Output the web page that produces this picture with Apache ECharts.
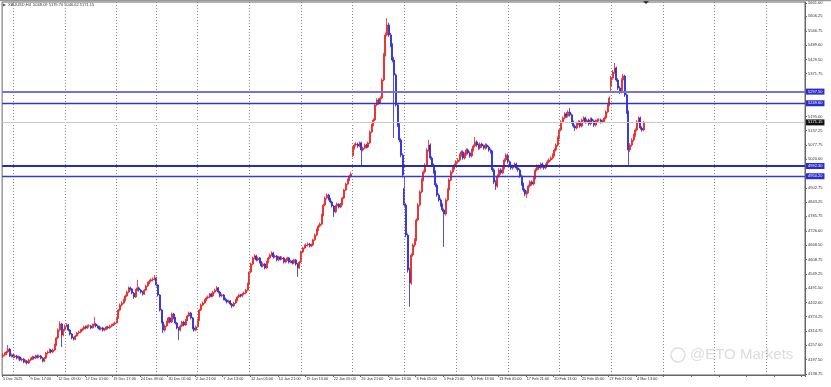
<!DOCTYPE html>
<html><head><meta charset="utf-8">
<script src="https://cdn.jsdelivr.net/npm/echarts@6/dist/echarts.min.js"></script>
<style>html,body{margin:0;padding:0;background:#fff}#c{width:831px;height:387px}</style>
</head><body><div id="c"></div>
<script>
// ---- DATA (XAUUSD H4, [open, close, low, high]) ----
const titleText = "XAUUSD,H4  5048.09 5179.70 5046.62 5171.15";
const xLabels = ["5 Dec 2025","9 Dec 17:00","12 Dec 09:00","17 Dec 01:00","19 Dec 17:00","24 Dec 09:00","30 Dec 05:00","2 Jan 21:00","7 Jan 13:00","12 Jan 05:00","14 Jan 21:00","19 Jan 13:00","22 Jan 05:00","26 Jan 21:00","29 Jan 13:00","3 Feb 05:00","5 Feb 21:00","10 Feb 13:00","13 Feb 05:00","17 Feb 21:00","20 Feb 13:00","25 Feb 05:00","27 Feb 21:00","4 Mar 13:00"];
const yTicks = [5661.00,5606.25,5546.75,5489.00,5429.50,5371.75,5195.00,5137.25,5077.75,5020.00,4902.75,4843.25,4785.75,4726.00,4668.50,4608.75,4549.25,4491.50,4432.00,4374.25,4314.75,4257.00,4197.50,4138.75];
const weekStarts = [6,36,66,89,113,143,173,203,233,263,293,323,353,383,413,443];
const levels = [5297.50,5249.60,4992.30,4950.20];
const lastPrice = 5171.15;

const wkDec5 = [[4212,4217,4205,4224],[4217,4221,4211,4228],[4221,4229,4216,4235],[4229,4241,4224,4258],[4241,4213,4208,4246],[4213,4217,4206,4223]];
const wkDec8 = [[4217,4209,4203,4222],[4209,4213,4204,4219],[4213,4204,4199,4217],[4204,4209,4198,4214],[4209,4196,4191,4212],[4196,4200,4190,4206],[4200,4188,4183,4204],[4188,4192,4183,4198],[4192,4184,4178,4196],[4184,4196,4180,4201],[4196,4200,4191,4206],[4200,4209,4196,4214],[4209,4204,4198,4213],[4204,4213,4200,4218],[4213,4209,4203,4219],[4209,4213,4204,4218],[4213,4204,4199,4217],[4204,4192,4186,4208],[4192,4204,4188,4209],[4204,4225,4200,4229],[4225,4229,4219,4235],[4229,4237,4224,4243],[4237,4229,4223,4242],[4229,4237,4225,4243],[4237,4258,4233,4263],[4258,4287,4254,4292],[4287,4319,4282,4326],[4319,4344,4313,4356],[4344,4299,4250,4349],[4299,4319,4293,4324]];
const wkDec15 = [[4319,4336,4314,4342],[4336,4340,4330,4347],[4340,4319,4314,4344],[4319,4303,4297,4323],[4303,4287,4281,4307],[4287,4282,4276,4292],[4282,4295,4278,4300],[4295,4307,4291,4312],[4307,4311,4302,4317],[4311,4319,4306,4324],[4319,4323,4314,4329],[4323,4332,4318,4337],[4332,4328,4322,4338],[4328,4336,4324,4341],[4336,4336,4329,4343],[4336,4328,4322,4341],[4328,4340,4325,4346],[4340,4344,4334,4373],[4344,4336,4330,4349],[4336,4332,4326,4341],[4332,4323,4318,4337],[4323,4328,4318,4333],[4328,4319,4313,4332],[4319,4323,4314,4328],[4323,4332,4319,4337],[4332,4328,4322,4336],[4328,4336,4324,4341],[4336,4340,4331,4345],[4340,4344,4335,4349],[4344,4348,4339,4354]];
const wkDec22 = [[4348,4369,4344,4374],[4369,4401,4365,4406],[4401,4422,4396,4428],[4422,4430,4416,4437],[4430,4442,4425,4448],[4442,4459,4437,4465],[4459,4475,4454,4481],[4475,4492,4470,4498],[4492,4488,4481,4497],[4488,4471,4466,4492],[4471,4455,4447,4475],[4455,4483,4451,4488],[4483,4492,4478,4525],[4492,4483,4477,4497],[4483,4475,4469,4487],[4475,4467,4461,4480],[4467,4483,4463,4488],[4483,4500,4479,4505],[4500,4512,4495,4517],[4512,4520,4507,4526],[4520,4525,4515,4531],[4525,4529,4519,4535],[4529,4533,4523,4545]];
const wkDec29 = [[4533,4504,4498,4538],[4504,4463,4457,4508],[4463,4401,4395,4467],[4401,4352,4346,4406],[4352,4319,4307,4357],[4319,4336,4313,4342],[4336,4352,4331,4358],[4352,4369,4347,4374],[4369,4352,4346,4373],[4352,4385,4348,4391],[4385,4369,4363,4390],[4369,4348,4342,4373],[4348,4328,4322,4352],[4328,4319,4278,4332],[4319,4336,4314,4341],[4336,4352,4331,4357],[4352,4340,4334,4357],[4340,4360,4336,4365],[4360,4377,4356,4382],[4377,4389,4372,4395],[4389,4369,4363,4393],[4369,4328,4322,4373],[4328,4319,4313,4333],[4319,4332,4314,4337]];
const wkJan5 = [[4332,4360,4328,4366],[4360,4401,4356,4406],[4401,4422,4396,4428],[4422,4430,4417,4436],[4430,4442,4425,4447],[4442,4451,4437,4456],[4451,4455,4446,4461],[4455,4467,4450,4472],[4467,4459,4453,4472],[4459,4475,4455,4480],[4475,4483,4470,4489],[4483,4492,4478,4500],[4492,4475,4469,4496],[4475,4459,4453,4480],[4459,4463,4454,4469],[4463,4447,4441,4467],[4447,4442,4436,4452],[4442,4434,4428,4447],[4434,4438,4429,4444],[4438,4426,4420,4442],[4426,4418,4410,4430],[4418,4430,4414,4435],[4430,4442,4426,4447],[4442,4455,4437,4460],[4455,4463,4450,4468],[4463,4459,4453,4468],[4459,4467,4454,4472],[4467,4471,4462,4477],[4471,4483,4466,4488],[4483,4508,4478,4514]];
const wkJan12 = [[4508,4557,4504,4563],[4557,4590,4552,4596],[4590,4615,4585,4621],[4615,4623,4609,4630],[4623,4607,4601,4628],[4607,4615,4602,4621],[4615,4598,4592,4619],[4598,4582,4576,4603],[4582,4590,4577,4596],[4590,4574,4568,4594],[4574,4598,4570,4603],[4598,4615,4593,4620],[4615,4627,4610,4633],[4627,4635,4621,4642],[4635,4619,4613,4640],[4619,4623,4614,4629],[4623,4607,4601,4627],[4607,4619,4602,4624],[4619,4611,4605,4623],[4611,4615,4606,4621],[4615,4598,4592,4619],[4598,4607,4593,4612],[4607,4615,4602,4620],[4615,4598,4592,4619],[4598,4602,4593,4608],[4602,4594,4588,4607],[4594,4607,4590,4612],[4607,4590,4584,4611],[4590,4574,4537,4594],[4574,4598,4570,4603]];
const wkJan19 = [[4598,4639,4594,4645],[4639,4656,4634,4661],[4656,4664,4651,4670],[4664,4668,4658,4674],[4668,4672,4662,4678],[4672,4664,4658,4677],[4664,4668,4659,4674],[4668,4689,4663,4694],[4689,4709,4684,4715],[4709,4730,4704,4736],[4730,4746,4725,4752],[4746,4754,4740,4761],[4754,4791,4749,4797],[4791,4832,4786,4838],[4832,4861,4827,4867],[4861,4873,4855,4880],[4873,4857,4851,4878],[4857,4845,4839,4862],[4845,4828,4822,4850],[4828,4804,4783,4832],[4804,4828,4799,4833],[4828,4836,4823,4842],[4836,4824,4818,4840],[4824,4836,4819,4841],[4836,4861,4831,4866],[4861,4894,4856,4899],[4894,4918,4889,4924],[4918,4935,4913,4941],[4935,4951,4930,4957],[4951,4959,4945,4966]];
const wkJan26 = [[5035,5066,5028,5072],[5066,5078,5060,5085],[5078,5082,5072,5090],[5082,5074,5067,5088],[5074,5087,5069,5093],[5087,5058,4996,5092],[5058,5066,5052,5072],[5066,5078,5061,5084],[5078,5070,5064,5084],[5070,5087,5065,5093],[5087,5132,5082,5138],[5132,5160,5127,5166],[5160,5181,5155,5188],[5181,5243,5176,5250],[5243,5263,5237,5270],[5263,5251,5244,5270],[5251,5271,5246,5278],[5271,5345,5266,5352],[5345,5448,5340,5456],[5448,5530,5442,5540],[5530,5571,5524,5599],[5571,5530,5522,5580],[5530,5489,5480,5538],[5489,5427,5418,5496],[5427,5366,5107,5440],[5366,5243,5236,5372],[5243,5160,5152,5250],[5160,5099,5090,5168],[5099,5037,5028,5106],[5037,4955,4945,5044]];
const wkFeb2 = [[4900,4832,4822,4947],[4832,4709,4700,4840],[4709,4566,4555,4716],[4566,4512,4414,4575],[4512,4627,4505,4634],[4627,4668,4620,4675],[4668,4689,4660,4696],[4689,4771,4683,4778],[4771,4832,4765,4840],[4832,4886,4826,4893],[4886,4935,4880,4942],[4935,4968,4929,4975],[4968,4996,4961,5004],[4996,5058,4990,5065],[5058,5078,5051,5099],[5078,5025,5018,5085],[5025,4996,4989,5032],[4996,4968,4960,5003],[4968,4914,4906,4975],[4914,4873,4866,4921],[4873,4853,4846,4880],[4853,4832,4825,4860],[4832,4812,4804,4839],[4812,4795,4660,4818],[4795,4853,4788,4860],[4853,4894,4847,4901],[4894,4935,4888,4942],[4935,4968,4929,4975],[4968,4984,4961,4991],[4984,4996,4977,5003]];
const wkFeb9 = [[4996,5009,4989,5016],[5009,5017,5002,5024],[5017,5037,5010,5044],[5037,5050,5030,5057],[5050,5025,5018,5056],[5025,5041,5019,5048],[5041,5058,5035,5065],[5058,5046,5039,5064],[5046,5033,5026,5052],[5033,5058,5027,5064],[5058,5074,5052,5081],[5074,5091,5068,5111],[5091,5078,5071,5097],[5078,5066,5059,5084],[5066,5082,5060,5089],[5082,5074,5067,5088],[5074,5066,5059,5080],[5066,5078,5060,5085],[5078,5070,5063,5084],[5070,5058,5051,5076],[5058,5050,5043,5064],[5050,4976,4968,5056],[4976,4927,4918,4983],[4927,4910,4894,4934],[4910,4951,4903,4958],[4951,4976,4944,4983],[4976,4964,4957,4983],[4964,4984,4958,4991],[4984,5017,4978,5024],[5017,5037,5010,5044]];
const wkFeb16 = [[5037,5009,5002,5043],[5009,4996,4989,5015],[4996,4984,4977,5002],[4984,4992,4977,4998],[4992,5000,4986,5007],[5000,4984,4977,5006],[4984,4976,4969,4990],[4976,4951,4944,4982],[4951,4918,4911,4957],[4918,4894,4886,4924],[4894,4877,4868,4900],[4877,4886,4861,4892],[4886,4910,4880,4916],[4910,4927,4904,4934],[4927,4918,4911,4933],[4918,4943,4912,4950],[4943,4976,4937,4983],[4976,4992,4970,4999],[4992,4984,4977,4998],[4984,5000,4978,5007],[5000,4992,4985,5006],[4992,4984,4977,4998],[4984,4996,4978,5003],[4996,5009,4990,5016],[5009,5017,5003,5024],[5017,5025,5011,5032],[5025,5037,5019,5044],[5037,5058,5031,5065],[5058,5078,5052,5085],[5078,5107,5072,5114]];
const wkFeb23 = [[5107,5140,5101,5147],[5140,5173,5134,5180],[5173,5189,5167,5196],[5189,5206,5183,5213],[5206,5197,5190,5213],[5197,5214,5191,5221],[5214,5202,5195,5230],[5202,5173,5166,5208],[5173,5156,5149,5179],[5156,5148,5136,5162],[5148,5165,5142,5171],[5165,5173,5159,5180],[5173,5156,5149,5179],[5156,5181,5150,5187],[5181,5189,5175,5196],[5189,5173,5166,5195],[5173,5181,5167,5187],[5181,5165,5158,5187],[5165,5185,5159,5191],[5185,5177,5170,5191],[5177,5160,5153,5183],[5160,5177,5154,5183],[5177,5181,5171,5187],[5181,5181,5174,5188],[5181,5173,5166,5187],[5173,5177,5167,5183],[5177,5189,5171,5195],[5189,5214,5183,5221],[5214,5243,5208,5250],[5243,5271,5237,5278]];
const wkMar2 = [[5320,5353,5300,5362],[5353,5378,5346,5386],[5378,5394,5370,5415],[5394,5345,5338,5400],[5345,5312,5304,5352],[5312,5296,5288,5320],[5296,5345,5290,5352],[5345,5361,5338,5370],[5361,5284,5276,5366],[5284,5214,5206,5290],[5214,5058,4996,5220],[5058,5078,5050,5086],[5078,5099,5071,5106],[5099,5119,5092,5126],[5119,5140,5112,5147],[5140,5173,5134,5180],[5173,5189,5167,5196],[5189,5148,5141,5195],[5148,5140,5133,5155],[5140,5171,5135,5177]];

const candles = [].concat(wkDec5,wkDec8,wkDec15,wkDec22,wkDec29,wkJan5,wkJan12,wkJan19,wkJan26,wkFeb2,wkFeb9,wkFeb16,wkFeb23,wkMar2);
const SLOTS = 466;
const cats = []; for (let i = 0; i < SLOTS; i++) cats.push(String(i));

const FONT = 'Liberation Sans, Arial, sans-serif';
const lvlStyles = [
  {color:'#7474d8', width:2, type:'solid'},
  {color:'#3434c4', width:1.3, type:'solid'},
  {color:'#2a2ab8', width:2, type:'solid'},
  {color:'#3a3ac4', width:1.4, type:'solid'}
];
const markData = [];
weekStarts.forEach(w => markData.push({xAxis: String(w), lineStyle:{color:'#8a8a8a', type:[1,2], width:1}, label:{show:false}}));
levels.forEach((v,k) => markData.push({yAxis: v, lineStyle: lvlStyles[k], label:{show:true, position:'end', distance:1, formatter: v.toFixed(2), color:'#fff', backgroundColor:'#2b2bd0', fontSize:4, fontFamily:FONT, padding:[1,2,1,2]}}));
markData.push({yAxis: lastPrice, lineStyle:{color:'#c8c8c8', width:1, type:'solid'}, label:{show:true, position:'end', distance:1, formatter: lastPrice.toFixed(2), color:'#fff', backgroundColor:'#111', fontSize:4, fontFamily:FONT, padding:[1,2,1,2]}});

const chart = echarts.init(document.getElementById('c'), null, {renderer:'canvas'});
chart.setOption({
  animation:false,
  backgroundColor:'#fff',
  grid:{left:1, right:26, top:2, bottom:12, show:true, borderColor:'#666', borderWidth:1},
  xAxis:{type:'category', data:cats, boundaryGap:true,
    axisLine:{show:true, lineStyle:{color:'#666', width:1}},
    axisTick:{show:true, interval:15, length:2, lineStyle:{color:'#666'}},
    axisLabel:{show:true, interval:15, margin:2, align:'left', fontSize:3.8, color:'#333', fontFamily:FONT,
      formatter:(v, idx) => (idx % 16 === 0 && xLabels[idx/16]) ? xLabels[idx/16] : ''},
    splitLine:{show:false}},
  yAxis:{type:'value', position:'right', min:4134.7, max:5665.1, scale:true,
    axisLine:{show:true, lineStyle:{color:'#666', width:1}},
    axisTick:{show:true, length:2, customValues:yTicks, lineStyle:{color:'#666'}},
    axisLabel:{show:true, margin:3, fontSize:4, color:'#333', fontFamily:FONT, customValues:yTicks, formatter:v => Number(v).toFixed(2)},
    splitLine:{show:false}},
  series:[{
    type:'candlestick', data:candles, barWidth:1.5,
    itemStyle:{color:'#e8201e', color0:'#2424d8', borderColor:'#e8201e', borderColor0:'#2424d8', borderWidth:0.8},
    markLine:{silent:true, symbol:['none','none'], animation:false, precision:2, data:markData}
  }],
  graphic:[
    {type:'rect', shape:{x:0,y:0,width:831,height:1.2}, style:{fill:'#9a9a9a'}, z:100},
    {type:'polygon', shape:{points:[[3,3.5],[6,5],[3,6.5]]}, style:{fill:'#555'}},
    {type:'text', left:8, top:3, style:{text:titleText, fontSize:4, fill:'#333', fontFamily:FONT}},
    {type:'polygon', shape:{points:[[643,1],[649,1],[646,4]]}, style:{fill:'#222'}},
    {type:'circle', shape:{cx:678, cy:355, r:7}, style:{fill:'none', stroke:'#dedede', lineWidth:1.5}},
    {type:'text', left:690, top:347, style:{text:'@ETO Markets', fontSize:15, fill:'#dcdcdc', fontFamily:FONT}}
  ]
});
</script></body></html>
